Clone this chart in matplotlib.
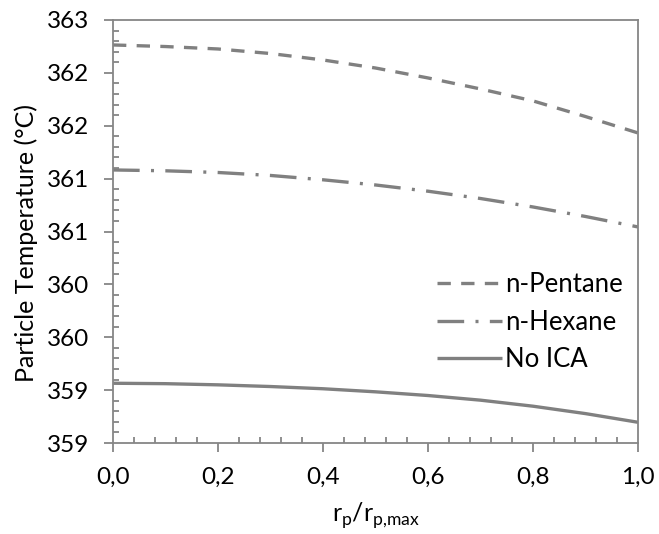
import matplotlib
matplotlib.use("Agg")
import matplotlib.pyplot as plt
from matplotlib.ticker import MultipleLocator

plt.rcParams['font.family'] = ['Lato', 'DejaVu Sans']

x = [0.0, 0.1, 0.2, 0.3, 0.4, 0.5, 0.6, 0.7, 0.8, 0.9, 1.0]
pentane = [362.264, 362.249, 362.226, 362.183, 362.122, 362.046, 361.952, 361.848, 361.735, 361.587, 361.432]
hexane = [361.082, 361.074, 361.058, 361.030, 360.989, 360.940, 360.881, 360.812, 360.732, 360.642, 360.543]
no_ica = [359.065, 359.061, 359.050, 359.034, 359.013, 358.984, 358.949, 358.905, 358.848, 358.778, 358.696]

y_ticks = [358.5, 359.0, 359.5, 360.0, 360.5, 361.0, 361.5, 362.0, 362.5]
y_tick_labels = ['359', '359', '360', '360', '361', '361', '362', '362', '363']
x_ticks = [0.0, 0.2, 0.4, 0.6, 0.8, 1.0]
x_tick_labels = ['0,0', '0,2', '0,4', '0,6', '0,8', '1,0']

gray = '#808080'
spine_gray = '#868686'

fig = plt.figure(figsize=(6.59, 5.34), dpi=100)
ax = fig.add_axes([113/659, 1-443/534, (638-113)/659, (443-20)/534])

lw = 2.4
ax.plot(x, pentane, color=gray, lw=lw, dashes=(4, 3.1), label='n-Pentane')
ax.plot(x, hexane, color=gray, lw=lw, dashes=(8, 3.4, 0.9, 3.4), label='n-Hexane')
ax.plot(x, no_ica, color=gray, lw=lw, solid_capstyle='butt', label='No ICA')

ax.set_xlim(0, 1.0)
ax.set_ylim(358.5, 362.5)
ax.set_xticks(x_ticks)
ax.set_xticklabels(x_tick_labels)
ax.set_yticks(y_ticks)
ax.set_yticklabels(y_tick_labels)
ax.xaxis.set_minor_locator(MultipleLocator(0.04))
ax.yaxis.set_minor_locator(MultipleLocator(0.1))

for s in ax.spines.values():
    s.set_color(spine_gray)
    s.set_linewidth(1.3)

ax.tick_params(axis='both', which='major', direction='out', length=6.5, width=1.3,
               color=spine_gray, labelsize=17.5, labelcolor='black')
ax.tick_params(axis='both', which='minor', direction='in', length=4.5, width=1.3,
               color=spine_gray)
ax.tick_params(axis='x', which='major', pad=11)
ax.tick_params(axis='y', which='major', pad=11)

ax.set_ylabel('Particle Temperature (°C)', fontsize=18, va='center')
ax.yaxis.set_label_coords((26-113)/525, (443-243)/423)
ax.set_xlabel(r'r$_\mathregular{p}$/r$_\mathregular{p{,}max}$', fontsize=18, va='top')
ax.xaxis.set_label_coords(0.5, (443-501)/423)

leg = ax.legend(loc='center left', bbox_to_anchor=((437-113)/525, (443-322)/423),
                frameon=False, fontsize=18.5, handlelength=2.53, handletextpad=0.12,
                labelspacing=0.5, borderaxespad=0.0, borderpad=0.0)

fig.savefig('out.png', dpi=100)
